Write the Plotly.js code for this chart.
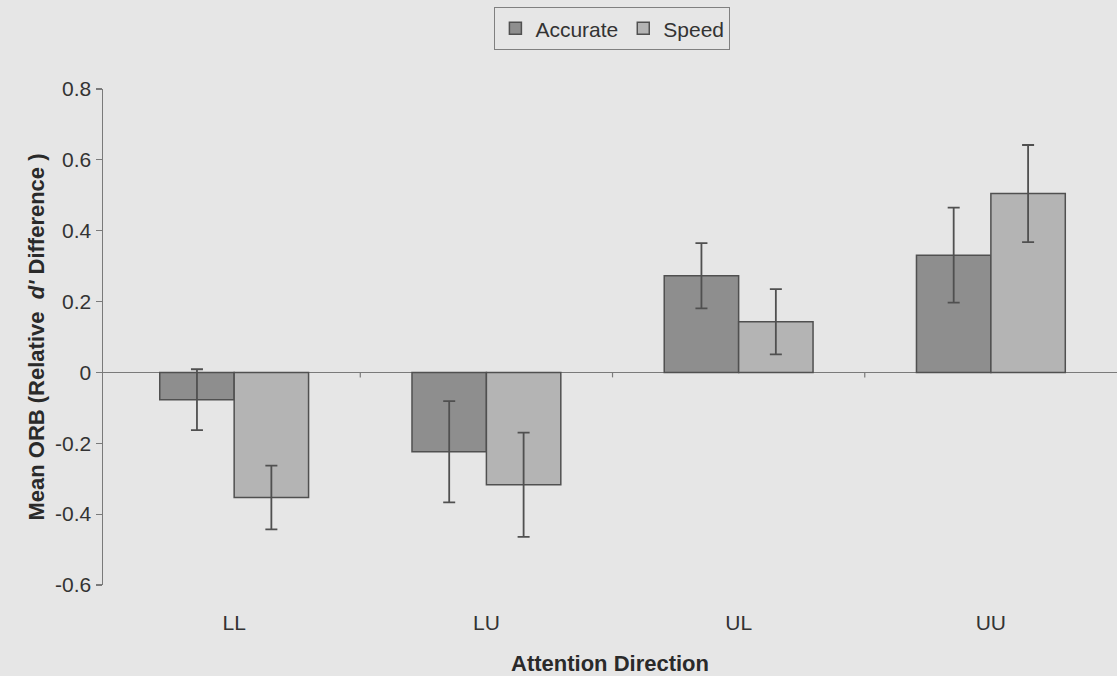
<!DOCTYPE html>
<html>
<head>
<meta charset="utf-8">
<script src="https://cdn.plot.ly/plotly-3.0.1.min.js"></script>
<style>
  html, body { margin: 0; padding: 0; background: #e6e6e6; }
  #chart { width: 1117px; height: 676px; }
</style>
</head>
<body>
<div id="chart"></div>
<script>
// Data
const categories = ['LL', 'LU', 'UL', 'UU'];
const seriesNames = ['Accurate', 'Speed'];
const accurate = [-0.077, -0.224, 0.273, 0.331];
const accurateErr = [0.086, 0.143, 0.092, 0.134];
const speed = [-0.353, -0.317, 0.143, 0.505];
const speedErr = [0.090, 0.147, 0.092, 0.137];
const yTicks = [-0.6, -0.4, -0.2, 0, 0.2, 0.4, 0.6, 0.8];
const yTickText = ['-0.6', '-0.4', '-0.2', '0', '0.2', '0.4', '0.6', '0.8'];

const FONT = 'Liberation Sans, Arial, sans-serif';
const EDGE = '#505050';

const traces = [
  {
    type: 'bar', name: seriesNames[0], x: categories, y: accurate,
    marker: { color: '#8e8e8e', line: { color: EDGE, width: 1.5 } },
    error_y: { type: 'data', array: accurateErr, visible: true, color: EDGE, thickness: 1.8, width: 6 }
  },
  {
    type: 'bar', name: seriesNames[1], x: categories, y: speed,
    marker: { color: '#b4b4b4', line: { color: EDGE, width: 1.5 } },
    error_y: { type: 'data', array: speedErr, visible: true, color: EDGE, thickness: 1.8, width: 6 }
  }
];

const layout = {
  width: 1117, height: 676,
  margin: { l: 103, r: 0, t: 89, b: 91 },
  paper_bgcolor: '#e6e6e6',
  plot_bgcolor: '#e6e6e6',
  font: { family: FONT, size: 21, color: '#333333' },
  barmode: 'group',
  bargap: 0.41,
  bargroupgap: 0,
  showlegend: true,
  legend: {
    orientation: 'h',
    x: 0.386, xanchor: 'left',
    y: 1.165, yanchor: 'top',
    bgcolor: 'rgba(0,0,0,0)',
    bordercolor: '#808080', borderwidth: 1,
    font: { family: FONT, size: 21, color: '#333333' },
    itemwidth: 30,
    traceorder: 'normal'
  },
  xaxis: {
    type: 'category',
    range: [-0.52, 3.5],
    showline: false,
    showgrid: false,
    zeroline: false,
    ticks: '',
    ticklabelstandoff: 23,
    tickfont: { family: FONT, size: 21, color: '#333333' },
    title: { text: 'Attention Direction', font: { family: FONT, size: 22, color: '#2a2a2a', weight: 'bold' }, standoff: 25 },
    automargin: false
  },
  yaxis: {
    range: [-0.6, 0.8],
    tickvals: yTicks,
    ticktext: yTickText,
    showline: true, linecolor: '#7a7a7a', linewidth: 1.5,
    ticks: 'outside', ticklen: 6, tickcolor: '#7a7a7a', tickwidth: 1.2,
    showgrid: false,
    zeroline: true, zerolinecolor: '#7a7a7a', zerolinewidth: 1.5,
    tickfont: { family: FONT, size: 21, color: '#333333' },
    title: { text: 'Mean ORB (Relative&nbsp; <i>d\'</i> Difference )', font: { family: FONT, size: 22, color: '#2a2a2a', weight: 'bold' }, standoff: 4 },
    automargin: false
  },
  shapes: [0.5, 1.5, 2.5].map(v => ({
    type: 'line', xref: 'x', yref: 'y', x0: v, x1: v, y0: 0, y1: -0.014,
    line: { color: '#7a7a7a', width: 1.2 }
  }))
};

Plotly.newPlot('chart', traces, layout, { staticPlot: true, displayModeBar: false });
</script>
</body>
</html>
